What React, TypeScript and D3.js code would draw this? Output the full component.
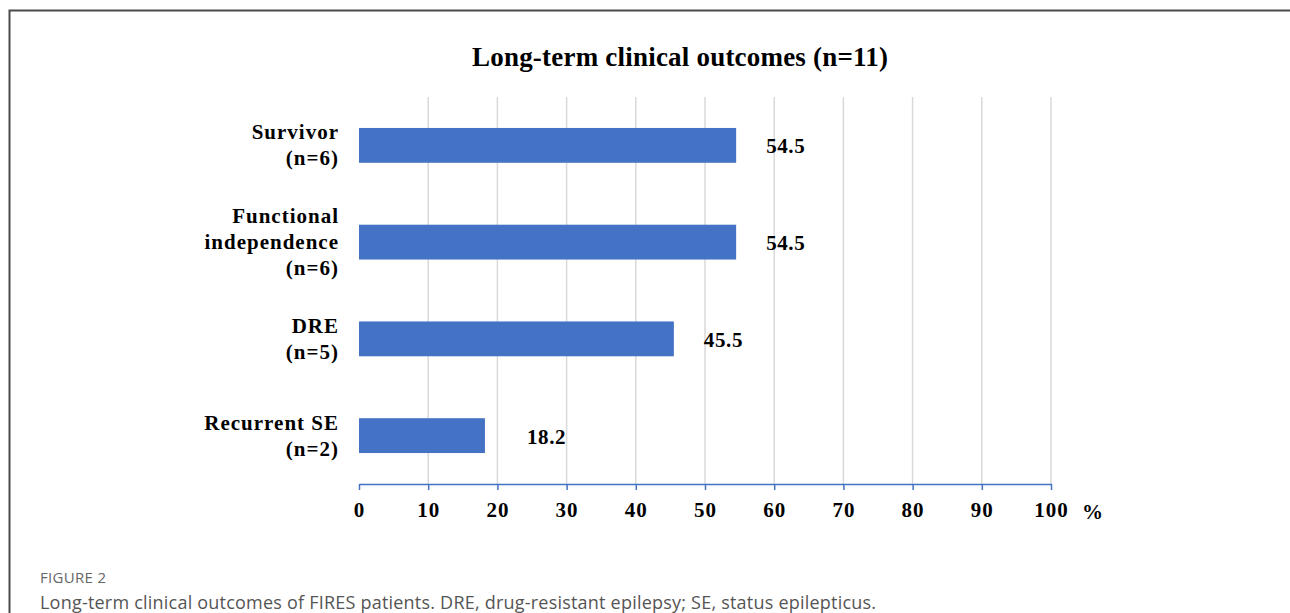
import { useEffect, useRef } from "react";
import * as d3 from "d3";

const categories = [
  ["Survivor", "(n=6)"],
  ["Functional", "independence", "(n=6)"],
  ["DRE", "(n=5)"],
  ["Recurrent SE", "(n=2)"],
];
const values = [54.5, 54.5, 45.5, 18.2];
const xTicks = [0, 10, 20, 30, 40, 50, 60, 70, 80, 90, 100];

const BLUE = "#4472c4";
const SERIF = "'Liberation Serif', 'Times New Roman', serif";
const SANS = "'Open Sans', 'Noto Sans', sans-serif";

export default function App() {
  const ref = useRef<SVGSVGElement>(null);

  useEffect(() => {
    if (!ref.current) return;
    const svg = d3.select(ref.current);
    svg.selectAll("*").remove();

    const width = 1290;
    const height = 613;
    const margin = { top: 97, right: 239, bottom: 129, left: 359 };

    // frame
    svg
      .append("path")
      .attr("d", `M9.5,${height} V10.5 H${width}`)
      .attr("fill", "none")
      .attr("stroke", "#4a4a4a")
      .attr("stroke-width", 2);

    const x = d3
      .scaleLinear()
      .domain([0, 100])
      .range([margin.left, width - margin.right]);

    const idx = values.map((_, i) => String(i));
    const y = d3
      .scaleBand()
      .domain(idx)
      .range([margin.top, height - margin.bottom])
      .paddingInner(0.64)
      .paddingOuter(0.32);

    // gridlines
    svg
      .append("g")
      .selectAll("line")
      .data(xTicks.slice(1))
      .join("line")
      .attr("x1", (d) => x(d))
      .attr("x2", (d) => x(d))
      .attr("y1", margin.top)
      .attr("y2", height - margin.bottom)
      .attr("stroke", "#d9d9d9")
      .attr("stroke-width", 1.5);

    // x axis
    const axis = svg
      .append("g")
      .attr("transform", `translate(0,${height - margin.bottom})`)
      .call(d3.axisBottom(x).tickValues(xTicks).tickSize(6).tickSizeOuter(0).tickPadding(12));
    axis.select(".domain").attr("stroke", BLUE).attr("stroke-width", 1.5);
    axis.selectAll(".tick line").attr("stroke", BLUE).attr("stroke-width", 1.5);
    axis
      .selectAll(".tick text")
      .attr("fill", "#000")
      .attr("font-family", SERIF)
      .attr("font-weight", "bold")
      .attr("font-size", "21px")
      .attr("letter-spacing", "1px");

    svg
      .append("text")
      .attr("x", x(100) + 31)
      .attr("y", height - margin.bottom + 35)
      .attr("font-family", SERIF)
      .attr("font-weight", "bold")
      .attr("font-size", "21px")
      .text("%");

    // bars
    svg
      .append("g")
      .selectAll("rect")
      .data(values)
      .join("rect")
      .attr("x", x(0))
      .attr("y", (_, i) => y(String(i))!)
      .attr("width", (d) => x(d) - x(0))
      .attr("height", y.bandwidth())
      .attr("fill", BLUE);

    // value labels
    svg
      .append("g")
      .selectAll("text")
      .data(values)
      .join("text")
      .attr("x", (d) => x(d) + (d < 30 ? 42 : 30))
      .attr("y", (_, i) => y(String(i))! + y.bandwidth() / 2 + 8)
      .attr("font-family", SERIF)
      .attr("font-weight", "bold")
      .attr("font-size", "21px")
      .attr("letter-spacing", "0.6px")
      .text((d) => d.toFixed(1));

    // category labels
    const lineH = 26;
    svg
      .append("g")
      .selectAll("text")
      .data(categories)
      .join("text")
      .attr("text-anchor", "end")
      .attr("font-family", SERIF)
      .attr("font-weight", "bold")
      .attr("font-size", "21px")
      .attr("letter-spacing", "1px")
      .each(function (lines, i) {
        const cy = y(String(i))! + y.bandwidth() / 2;
        const start = cy - ((lines.length - 1) * lineH) / 2 + 7;
        d3.select(this)
          .selectAll("tspan")
          .data(lines)
          .join("tspan")
          .attr("x", x(0) - 20)
          .attr("y", (_, j) => start + j * lineH)
          .text((t) => t);
      });

    // title
    svg
      .append("text")
      .attr("x", 680)
      .attr("y", 66)
      .attr("text-anchor", "middle")
      .attr("font-family", SERIF)
      .attr("font-weight", "bold")
      .attr("font-size", "27px")
      .attr("textLength", 416)
      .attr("lengthAdjust", "spacing")
      .text("Long-term clinical outcomes (n=11)");

    // caption
    svg
      .append("text")
      .attr("x", 40)
      .attr("y", 583)
      .attr("font-family", SANS)
      .attr("font-size", "15px")
      .attr("fill", "#666")
      .attr("textLength", 66)
      .attr("lengthAdjust", "spacing")
      .text("FIGURE 2");
    svg
      .append("text")
      .attr("x", 40)
      .attr("y", 609)
      .attr("font-family", SANS)
      .attr("font-size", "18px")
      .attr("fill", "#555")
      .attr("textLength", 836)
      .attr("lengthAdjust", "spacing")
      .text(
        "Long-term clinical outcomes of FIRES patients. DRE, drug-resistant epilepsy; SE, status epilepticus."
      );
  }, []);

  return (
    <div style={{ position: "fixed", left: 0, top: 0, width: 1290, height: 613, background: "#fff" }}>
      <svg ref={ref} width={1290} height={613} />
    </div>
  );
}
